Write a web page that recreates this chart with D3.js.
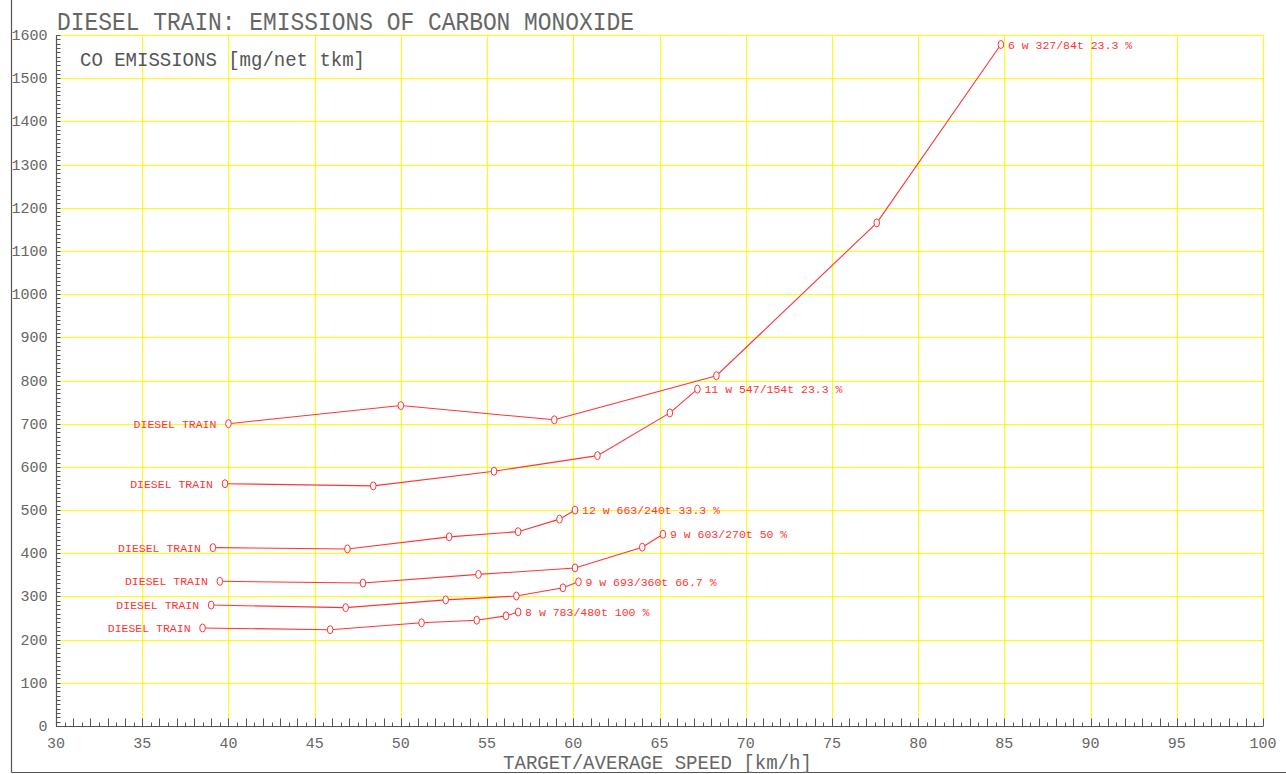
<!DOCTYPE html>
<html>
<head>
<meta charset="utf-8">
<script src="https://cdn.jsdelivr.net/npm/d3@7"></script>
<style>
html,body{margin:0;padding:0;background:#fff;}
svg{display:block;}
text{font-family:"Liberation Mono","DejaVu Sans Mono",monospace;}
</style>
</head>
<body>
<svg id="chart" width="1286" height="774"></svg>
<script>
// ---- data ----
const chartTitle = "DIESEL TRAIN: EMISSIONS OF CARBON MONOXIDE";
const yTitle = "CO EMISSIONS [mg/net tkm]";
const xTitle = "TARGET/AVERAGE SPEED [km/h]";
const startLabel = "DIESEL TRAIN";

const endLabels = [
  "6 w 327/84t 23.3 %",
  "11 w 547/154t 23.3 %",
  "12 w 663/240t 33.3 %",
  "9 w 603/270t 50 %",
  "9 w 693/360t 66.7 %",
  "8 w 783/480t 100 %"
];
const speeds = [
  [40.0, 50.0, 58.9, 68.3, 77.6, 84.8],
  [39.8, 48.4, 55.4, 61.4, 65.6, 67.2],
  [39.1, 46.9, 52.8, 56.8, 59.2, 60.1],
  [39.5, 47.8, 54.5, 60.1, 64.0, 65.2],
  [39.0, 46.8, 52.6, 56.7, 59.4, 60.3],
  [38.5, 45.9, 51.2, 54.4, 56.1, 56.8]
];
const emissions = [
  [700, 742, 709, 811, 1165, 1578],
  [561, 556, 590, 626, 725, 780],
  [413, 410, 438, 450, 479, 500],
  [335, 331, 351, 366, 414, 444],
  [280, 274, 292, 301, 320, 334],
  [227, 223, 239, 245, 255, 264]
];
const xTickValues = [30,35,40,45,50,55,60,65,70,75,80,85,90,95,100];
const yTickValues = [0,100,200,300,400,500,600,700,800,900,1000,1100,1200,1300,1400,1500,1600];

// ---- layout ----
const svg = d3.select("#chart");
const x = d3.scaleLinear().domain([30, 100]).range([56, 1263]);
const y = d3.scaleLinear().domain([0, 1600]).range([726, 35]);
const gray = "#555";
const textGray = "#666";
const red = "#ff3535";
const yellow = "#ffff00";

// outer frame (left + bottom)
svg.append("line").attr("x1", 11.5).attr("x2", 11.5).attr("y1", 0).attr("y2", 772.5).attr("stroke", gray).attr("stroke-width", 1.2);
svg.append("line").attr("x1", 11.5).attr("x2", 1286).attr("y1", 772.5).attr("y2", 772.5).attr("stroke", gray).attr("stroke-width", 1.2);

// grid
const grid = svg.append("g");
grid.selectAll("line.h").data(yTickValues.filter(d => d > 0)).join("line")
  .attr("x1", x(30)).attr("x2", x(100))
  .attr("y1", d => Math.round(y(d)) + 0.5).attr("y2", d => Math.round(y(d)) + 0.5)
  .attr("stroke", yellow).attr("stroke-width", 1);
grid.selectAll("line.v").data(xTickValues.filter(d => d > 30)).join("line")
  .attr("x1", d => Math.round(x(d)) + 0.5).attr("x2", d => Math.round(x(d)) + 0.5)
  .attr("y1", y(0)).attr("y2", y(1600))
  .attr("stroke", yellow).attr("stroke-width", 1);

// x axis: ticks pointing up, tall at integers, short at halves
const xMinor = d3.range(30, 100.01, 0.5);
const xAxisG = svg.append("g").attr("transform", `translate(0,${Math.round(y(0)) + 0.5})`);
xAxisG.append("line").attr("x1", x(30)).attr("x2", x(100)).attr("stroke", gray).attr("stroke-width", 1.2);
xAxisG.selectAll("line.t").data(xMinor).join("line")
  .attr("x1", d => Math.round(x(d)) + 0.5).attr("x2", d => Math.round(x(d)) + 0.5)
  .attr("y1", 0).attr("y2", d => Number.isInteger(d) ? -8 : -4)
  .attr("stroke", gray).attr("stroke-width", 1);
xAxisG.selectAll("text").data(xTickValues).join("text")
  .attr("x", d => x(d)).attr("y", 21)
  .attr("text-anchor", "middle").attr("font-size", 15).attr("fill", textGray)
  .text(d => d);

// y axis: ticks pointing right every 10
const yMinor = d3.range(0, 1600.1, 10);
const yAxisG = svg.append("g").attr("transform", `translate(${Math.round(x(30)) + 0.5},0)`);
yAxisG.append("line").attr("y1", y(0)).attr("y2", y(1600)).attr("stroke", gray).attr("stroke-width", 1.2);
yAxisG.selectAll("line.t").data(yMinor).join("line")
  .attr("y1", d => Math.round(y(d)) + 0.5).attr("y2", d => Math.round(y(d)) + 0.5)
  .attr("x1", 0).attr("x2", 4)
  .attr("stroke", gray).attr("stroke-width", 1);
yAxisG.selectAll("text").data(yTickValues).join("text")
  .attr("x", -9).attr("y", d => y(d) + 5)
  .attr("text-anchor", "end").attr("font-size", 15).attr("fill", textGray)
  .text(d => d);

// titles
svg.append("text").attr("x", 57).attr("y", 30).attr("font-size", 25)
  .attr("textLength", 577).attr("lengthAdjust", "spacingAndGlyphs")
  .attr("fill", textGray).text(chartTitle);
svg.append("text").attr("x", 80).attr("y", 66).attr("font-size", 20)
  .attr("textLength", 285).attr("lengthAdjust", "spacingAndGlyphs")
  .attr("fill", "#555").text(yTitle);
svg.append("text").attr("x", 503).attr("y", 769).attr("font-size", 20)
  .attr("textLength", 309).attr("lengthAdjust", "spacingAndGlyphs")
  .attr("fill", textGray).text(xTitle);

// series
const line = d3.line().x(d => x(d[0])).y(d => y(d[1]));
const seriesG = svg.append("g");
speeds.forEach((sp, i) => {
  const pts = sp.map((s, j) => [s, emissions[i][j]]);
  const g = seriesG.append("g");
  g.append("path").attr("d", line(pts)).attr("fill", "none")
    .attr("stroke", red).attr("stroke-width", 1.1);
  g.selectAll("ellipse").data(pts).join("ellipse")
    .attr("cx", d => x(d[0])).attr("cy", d => y(d[1]))
    .attr("rx", 2.8).attr("ry", 4)
    .attr("fill", "#fff").attr("stroke", red).attr("stroke-width", 1);
  const first = pts[0], last = pts[pts.length - 1];
  g.append("text").attr("x", x(first[0]) - 12).attr("y", y(first[1]) + 4)
    .attr("text-anchor", "end").attr("font-size", 11.5).attr("fill", red)
    .text(startLabel);
  g.append("text").attr("x", x(last[0]) + 7).attr("y", y(last[1]) + 4)
    .attr("font-size", 11.5).attr("fill", red)
    .attr("xml:space", "preserve").style("white-space", "pre")
    .text(endLabels[i]);
});
</script>
</body>
</html>
